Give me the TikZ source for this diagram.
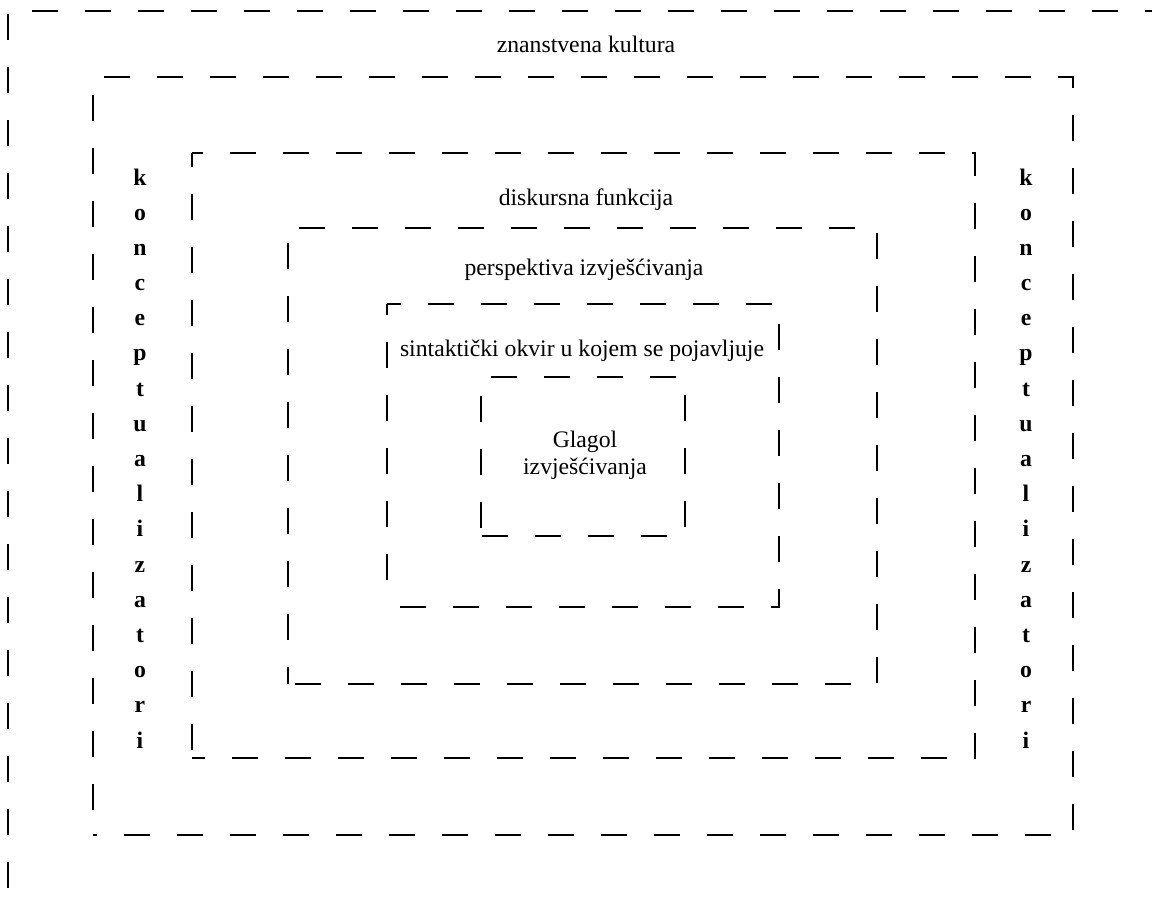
\documentclass[tikz,border=0pt]{standalone}
\usepackage{fontspec}
\setmainfont{Liberation Serif}
\begin{document}
\begin{tikzpicture}[x=1pt,y=-1pt,
  frame/.style={line width=2pt, dash pattern=on 26pt off 27pt},
  lab/.style={font=\fontsize{23.7}{28}\selectfont, anchor=base, inner sep=0pt},
  vletter/.style={font=\fontsize{23.7}{28}\selectfont\bfseries, anchor=base, inner sep=0pt}]
\useasboundingbox (0,0) rectangle (1152,898);
\clip (0,0) rectangle (1152,898);
% outer frame (runs off the page to the right and bottom)
\coordinate (o1) at (8,11);
\coordinate (o2) at (1170,11);
\coordinate (o3) at (8,920);
\draw[frame, dash phase=29] (o1) -- (o2);
\draw[frame, dash phase=50] (o1) -- (o3);
% nested frames
\foreach \n/\l/\t/\r/\b/\pt/\pl in {b2/93/77/1073/835/42/35, b3/192/153/975/758/15/12, b4/288/228/877/684/42/38, b5/387/304/779/607/12/15, b6/481/377/685/536/43/34} {
  \coordinate (\n tl) at (\l,\t);
  \coordinate (\n tr) at (\r,\t);
  \coordinate (\n br) at (\r,\b);
  \coordinate (\n bl) at (\l,\b);
  \draw[frame, dash phase=\pt] (\n tl) -- (\n tr) -- (\n br) -- (\n bl);
  \draw[frame, dash phase=\pl] (\n tl) -- (\n bl);
}
% labels
\node[lab] (t1) at (586,52) {znanstvena kultura};
\node[lab] (t2) at (586,205) {diskursna funkcija};
\node[lab] (t3) at (584,275) {perspektiva izvješćivanja};
\node[lab] (t4) at (582,356) {sintaktički okvir u kojem se pojavljuje};
\node[lab] (t5) at (585,447) {Glagol};
\node[lab] (t6) at (585,474) {izvješćivanja};
% vertical words
\foreach \ch [count=\i from 0] in {k,o,n,c,e,p,t,u,a,l,i,z,a,t,o,r,i} {
  \node[vletter] (L\i) at (140,{185+35.19*\i}) {\ch};
  \node[vletter] (R\i) at (1026,{185+35.19*\i}) {\ch};
}
\end{tikzpicture}
\end{document}
